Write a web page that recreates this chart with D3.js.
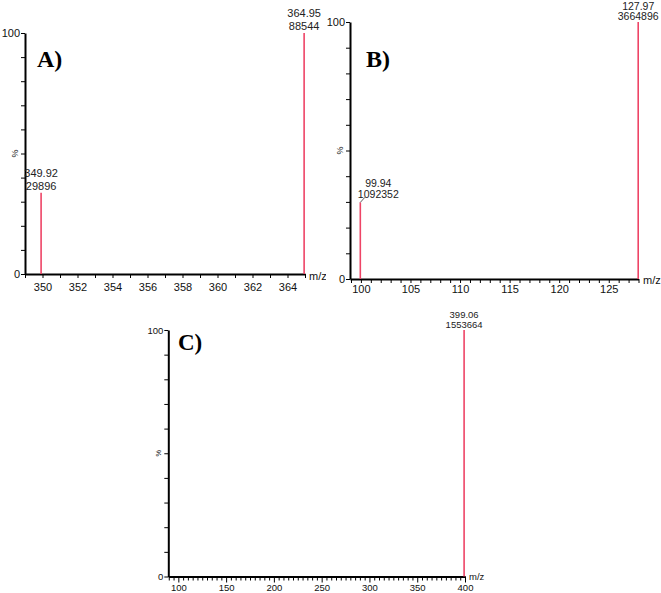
<!DOCTYPE html>
<html>
<head>
<meta charset="utf-8">
<script src="https://cdn.jsdelivr.net/npm/d3@7"></script>
<style>
  body { margin: 0; background: #fff; }
  svg { display: block; }
  .axis path { stroke: #000; stroke-width: 2px; }
  .axis line { stroke: #000; stroke-width: 1px; }
  .axis text { fill: #111; font-family: "Liberation Sans", Arial, sans-serif; }
</style>
</head>
<body>
<div id="chart"></div>
<script>
// peaks of each spectrum (m/z and absolute intensity)
var mzA = [349.92, 364.95];
var intA = [29896, 88544];
var mzB = [99.94, 127.97];
var intB = [1092352, 3664896];
var mzC = [399.06];
var intC = [1553664];

// x-axis domains and tick steps
var domainA = [349, 365], tickStepA = 1, labelStepA = 2;
var domainB = [98.9, 128], tickStepB = 1, labelStepB = 5;
var domainC = [89.5, 400], tickStepC = 5, labelStepC = 50;

var panelNames = ['A)', 'B)', 'C)'];

var W = 661, H = 593;
var red = '#ee4466';

var svg = d3.select('#chart').append('svg')
    .attr('width', W)
    .attr('height', H);

// clip for panel A (panel B image sits on top of its right edge)
svg.append('clipPath').attr('id', 'clipA')
    .append('rect').attr('x', 0).attr('y', 0).attr('width', 326).attr('height', 300);

var panels = [
    { mz: mzA, inten: intA, domain: domainA, step: tickStepA, lstep: labelStepA, name: panelNames[0],
      x0: 25, x1: 305, yTop: 33, yBot: 274, fs: 11, labFs: 11, lab1: 16, lab2: 3, lead: false,
      tickLab: 17, nameX: 37, nameY: 67, nameFs: 24, pctX: 15, mzX: 309, mzY: 280, clip: 'url(#clipA)' },
    { mz: mzB, inten: intB, domain: domainB, step: tickStepB, lstep: labelStepB, name: panelNames[1],
      x0: 350, x1: 638.5, yTop: 22, yBot: 279, fs: 11, labFs: 10.5, lab1: 12.5, lab2: 2, lead: true,
      tickLab: 14, nameX: 366, nameY: 67, nameFs: 24, pctX: 340, mzX: 643, mzY: 284, clip: null },
    { mz: mzC, inten: intC, domain: domainC, step: tickStepC, lstep: labelStepC, name: panelNames[2],
      x0: 168.3, x1: 465, yTop: 330, yBot: 576.5, fs: 9.5, labFs: 9.5, lab1: 12.5, lab2: 2, lead: false,
      tickLab: 14, nameX: 178, nameY: 350, nameFs: 23, pctX: 158, mzX: 469, mzY: 580, clip: null }
];

panels.forEach(function(p) {
    var g = svg.append('g');
    if (p.clip) g.attr('clip-path', p.clip);

    var x = d3.scaleLinear().domain(p.domain).range([p.x0, p.x1]);
    var y = d3.scaleLinear().domain([0, 100]).range([p.yBot, p.yTop]);
    var maxI = d3.max(p.inten);

    // x axis, minor ticks every step, labels every lstep
    var first = Math.ceil(p.domain[0] / p.step) * p.step;
    var xticks = d3.range(first, p.domain[1] + 0.001, p.step);
    var xAxis = d3.axisBottom(x)
        .tickValues(xticks)
        .tickSizeOuter(0)
        .tickFormat(function(d) { return Math.round(d) % p.lstep === 0 ? d : ''; });
    var gx = g.append('g').attr('class', 'axis')
        .attr('transform', 'translate(0,' + p.yBot + ')')
        .call(xAxis);
    gx.selectAll('.tick line').attr('y2', function(d) {
        return (p.step === 5 && d % 50 === 0) ? 6 : 4;
    });
    gx.selectAll('.tick text')
        .attr('y', p.tickLab)
        .attr('dy', '0')
        .style('font-size', p.fs + 'px');

    // y axis, ticks every 10%, labels 0 and 100
    var yAxis = d3.axisLeft(y)
        .tickValues(d3.range(0, 101, 10))
        .tickSizeInner(4)
        .tickSizeOuter(0)
        .tickFormat(function(d) { return (d === 0 || d === 100) ? d : ''; });
    var gy = g.append('g').attr('class', 'axis')
        .attr('transform', 'translate(' + p.x0 + ',0)')
        .call(yAxis);
    gy.selectAll('.tick text').attr('x', -5).style('font-size', p.fs + 'px');

    // % label
    g.append('text')
        .attr('transform', 'translate(' + p.pctX + ',' + y(50) + ') rotate(-90)')
        .attr('text-anchor', 'middle')
        .attr('dy', '0.35em')
        .style('font-family', '"Liberation Sans", Arial, sans-serif')
        .style('font-size', (p.fs - 2) + 'px')
        .attr('fill', '#111')
        .text('%');

    // m/z label
    g.append('text')
        .attr('x', p.mzX).attr('y', p.mzY)
        .style('font-family', '"Liberation Sans", Arial, sans-serif')
        .style('font-size', p.fs + 'px')
        .attr('fill', '#111')
        .text('m/z');

    // peaks
    var peaks = p.mz.map(function(m, i) { return { mz: m, inten: p.inten[i], pct: p.inten[i] / maxI * 100 }; });

    g.selectAll('line.peak').data(peaks).enter()
        .append('line')
        .attr('class', 'peak')
        .attr('x1', function(d) { return x(d.mz); })
        .attr('x2', function(d) { return x(d.mz); })
        .attr('y1', y(0))
        .attr('y2', function(d) { return y(d.pct); })
        .attr('stroke', red)
        .attr('stroke-width', 1.6);

    peaks.forEach(function(d) {
        var px = x(d.mz), py = y(d.pct);
        var tx = px, b2 = py - p.lab2, b1 = py - p.lab1;
        // small peak in B has its label pushed aside with a leader
        if (p.lead && d.pct < 100) {
            g.append('line')
                .attr('x1', px).attr('y1', py)
                .attr('x2', px + 4.5).attr('y2', py - 5)
                .attr('stroke', '#333').attr('stroke-width', 0.8);
            tx = px + 18;
            b2 = py - 4;
            b1 = py - 15.5;
        }
        [[d.mz.toFixed(2), b1], [String(d.inten), b2]].forEach(function(t) {
            g.append('text')
                .attr('x', tx).attr('y', t[1])
                .attr('text-anchor', 'middle')
                .style('font-family', '"Liberation Sans", Arial, sans-serif')
                .style('font-size', p.labFs + 'px')
                .attr('fill', '#222')
                .text(t[0]);
        });
    });

    // panel tag
    g.append('text')
        .attr('x', p.nameX).attr('y', p.nameY)
        .style('font-family', '"Liberation Serif", "Times New Roman", serif')
        .style('font-weight', 'bold')
        .style('font-size', p.nameFs + 'px')
        .attr('fill', '#000')
        .text(p.name);
});
</script>
</body>
</html>
